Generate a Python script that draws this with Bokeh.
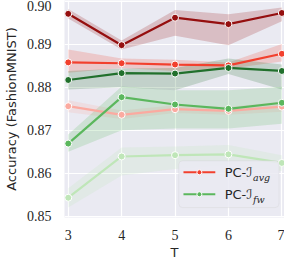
from bokeh.plotting import figure
from bokeh.models import Range1d, Label, BoxAnnotation, PrintfTickFormatter
from bokeh.embed import file_html
from bokeh.resources import INLINE

T = [3, 4, 5, 6, 7]
y_ticks = [0.85, 0.86, 0.87, 0.88, 0.89, 0.90]

# PC-I_avg family (reds)
avg1_mean = [0.8971, 0.8898, 0.8962, 0.8947, 0.8973]
avg1_low = [0.8960, 0.8888, 0.8920, 0.8898, 0.8954]
avg1_high = [0.8982, 0.8909, 0.8980, 0.8970, 0.8986]

avg2_mean = [0.8858, 0.8856, 0.8853, 0.8851, 0.8878]
avg2_low = [0.8834, 0.8845, 0.8838, 0.8843, 0.8860]
avg2_high = [0.8888, 0.8867, 0.8864, 0.8858, 0.8901]

avg3_mean = [0.8756, 0.8736, 0.8749, 0.8745, 0.8755]
avg3_low = [0.8742, 0.8726, 0.8740, 0.8736, 0.8743]
avg3_high = [0.8770, 0.8746, 0.8758, 0.8754, 0.8767]

# PC-I_fw family (greens)
fw1_mean = [0.8817, 0.8833, 0.8832, 0.8845, 0.8838]
fw1_low = [0.8795, 0.8800, 0.8793, 0.8831, 0.8795]
fw1_high = [0.8838, 0.8844, 0.8845, 0.8867, 0.8853]

fw2_mean = [0.8669, 0.8777, 0.8760, 0.8750, 0.8764]
fw2_low = [0.8650, 0.8700, 0.8704, 0.8704, 0.8715]
fw2_high = [0.8690, 0.8802, 0.8793, 0.8793, 0.8801]

fw3_mean = [0.8543, 0.8639, 0.8642, 0.8644, 0.8624]
fw3_low = [0.8520, 0.8595, 0.8610, 0.8620, 0.8605]
fw3_high = [0.8565, 0.8660, 0.8662, 0.8666, 0.8642]

series = [
    (avg1_mean, avg1_low, avg1_high, "#950f0f"),
    (avg2_mean, avg2_low, avg2_high, "#f2402e"),
    (fw1_mean, fw1_low, fw1_high, "#21702c"),
    (avg3_mean, avg3_low, avg3_high, "#fbaaa0"),
    (fw2_mean, fw2_low, fw2_high, "#5bb75d"),
    (fw3_mean, fw3_low, fw3_high, "#bfe6b8"),
]

legend_labels = ["PC-\u2110", "PC-\u2110"]
legend_subs = ["avg", "fw"]
legend_colors = ["#f2402e", "#5bb75d"]

p = figure(width=284, height=262, output_backend="svg", toolbar_location=None,
           x_range=Range1d(2.93, 7.05), y_range=Range1d(0.8497, 0.9002),
           min_border_left=50, min_border_right=0, min_border_top=0,
           min_border_bottom=36)
p.background_fill_color = "#eaeaf2"
p.border_fill_color = "white"
p.outline_line_color = None
p.grid.grid_line_color = "white"
p.grid.grid_line_width = 1.2

p.xaxis.ticker = T
p.yaxis.ticker = y_ticks
p.yaxis.formatter = PrintfTickFormatter(format="%.2f")
for ax in (p.xaxis, p.yaxis):
    ax.axis_line_color = None
    ax.major_tick_line_color = None
    ax.minor_tick_line_color = None
    ax.major_label_text_font = "Liberation Serif"
    ax.major_label_text_font_size = "14px"
    ax.major_label_text_color = "#262626"
    ax.axis_label_text_font = "DejaVu Sans"
    ax.axis_label_text_font_style = "normal"
    ax.axis_label_text_font_size = "13px"
    ax.axis_label_text_color = "#262626"
p.xaxis.axis_label = "T"
p.yaxis.axis_label = "Accuracy (FashionMNIST)"
p.yaxis.major_label_standoff = 7
p.yaxis.axis_label_standoff = 5
p.xaxis.major_label_standoff = 6
p.xaxis.axis_label_standoff = 2

for mean, low, high, c in series:
    p.varea(x=T, y1=low, y2=high, fill_color=c, fill_alpha=0.2)
for mean, low, high, c in series:
    p.line(T, mean, line_color=c, line_width=2.2)
    p.scatter(T, mean, size=7, fill_color=c, line_color="white", line_width=1)

# manual legend (positions in data coords)
lx0, lx1 = 5.07, 6.947
ly0, ly1 = 0.8520, 0.8629
row_y = [0.86022, 0.85511]
p.add_layout(BoxAnnotation(left=lx0, right=lx1, bottom=ly0, top=ly1,
                           fill_color="#eaeaf2", fill_alpha=0.85,
                           line_color="#cccccc", line_width=1,
                           border_radius=4))
for lab, sub, c, yy in zip(legend_labels, legend_subs, legend_colors, row_y):
    r1 = p.line([5.158, 5.754], [yy, yy], line_color=c, line_width=2)
    r2 = p.scatter([5.456], [yy], size=5, fill_color=c, line_color="white", line_width=1)
    r1.level = "overlay"
    r2.level = "overlay"
    p.add_layout(Label(x=5.93, y=yy, text=lab, text_font="DejaVu Sans",
                       text_font_size="13px", text_color="#262626",
                       text_baseline="middle", level="overlay"))
    p.add_layout(Label(x=6.46, y=yy - 0.0012, text=sub, text_font="DejaVu Serif",
                       text_font_style="italic", text_font_size="9.5px",
                       text_color="#262626", text_baseline="middle", level="overlay"))

open("out.html", "w").write(file_html(p, INLINE))
